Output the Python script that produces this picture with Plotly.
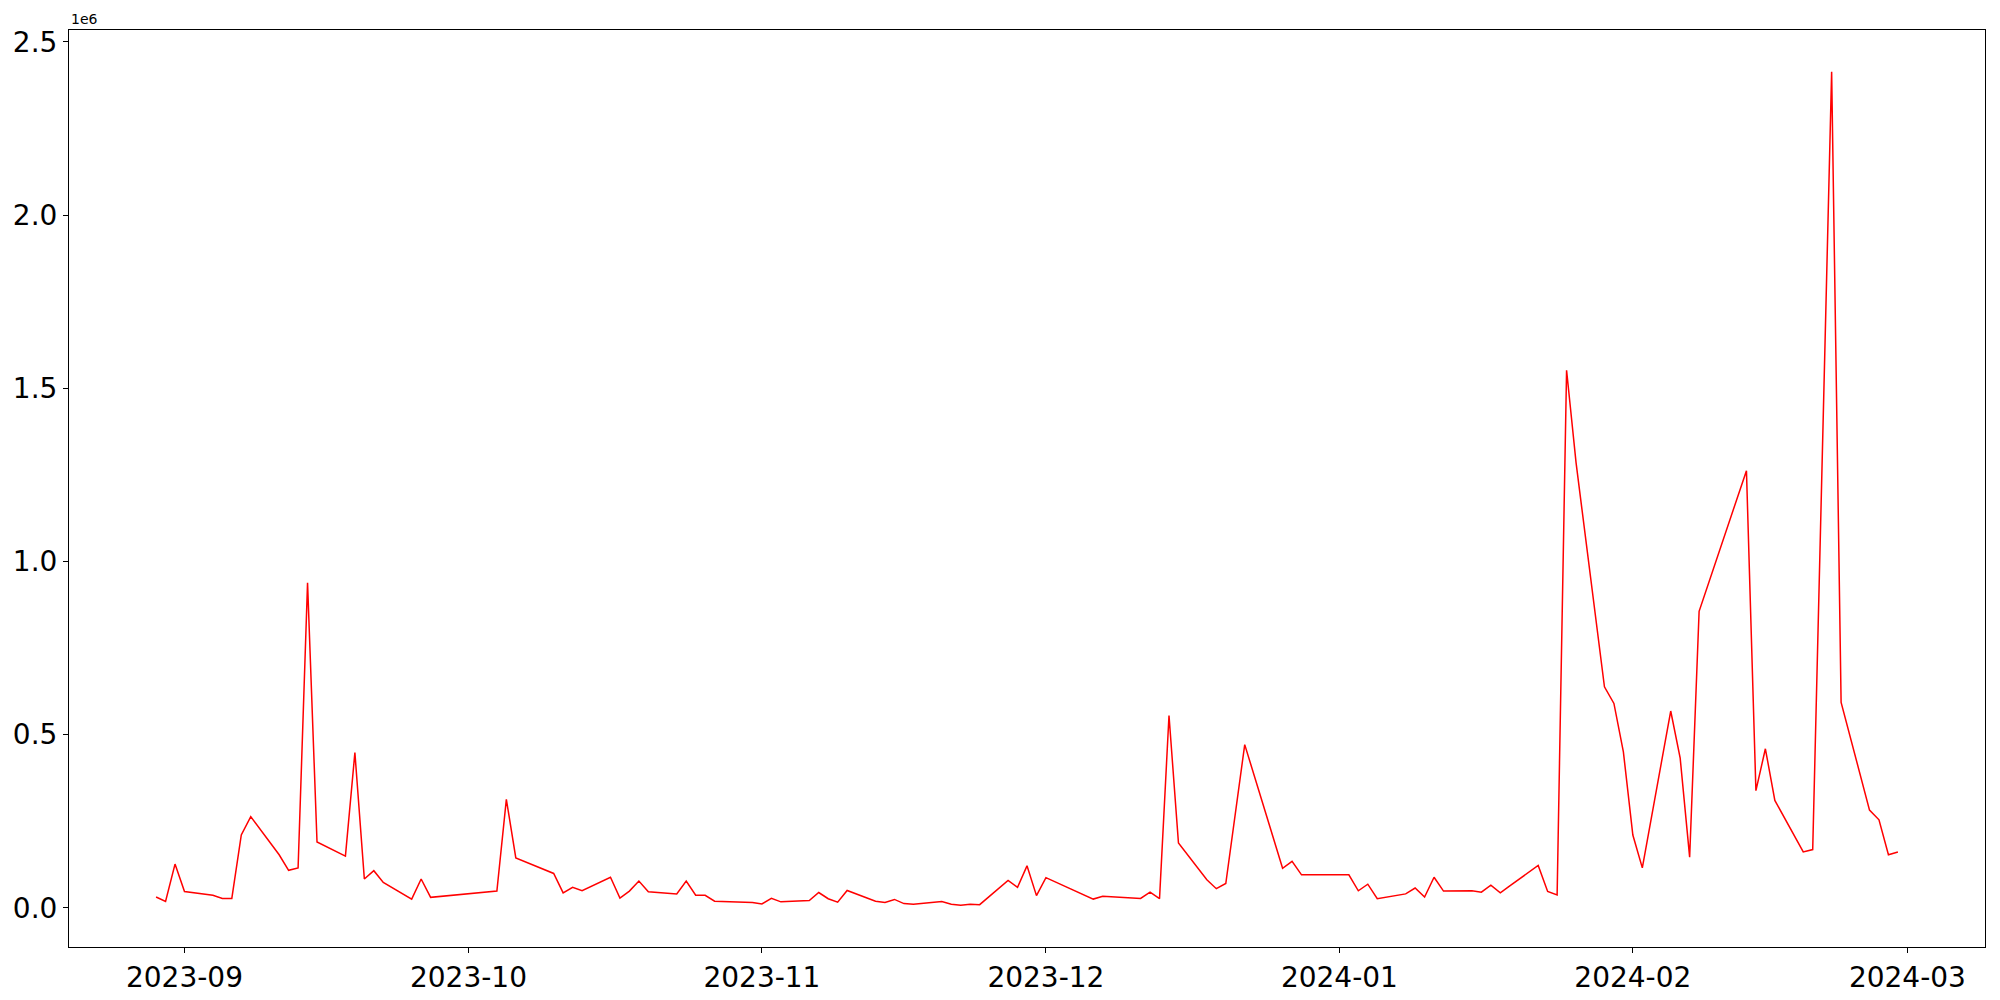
import pandas as pd
import plotly.graph_objects as go

# Trading dates (KRX calendar) and values
dates = [
    "2023-08-29", "2023-08-30", "2023-08-31", "2023-09-01",
    "2023-09-04", "2023-09-05", "2023-09-06", "2023-09-07", "2023-09-08",
    "2023-09-11", "2023-09-12", "2023-09-13", "2023-09-14", "2023-09-15",
    "2023-09-18", "2023-09-19", "2023-09-20", "2023-09-21", "2023-09-22",
    "2023-09-25", "2023-09-26", "2023-09-27",
    "2023-10-04", "2023-10-05", "2023-10-06",
    "2023-10-10", "2023-10-11", "2023-10-12", "2023-10-13",
    "2023-10-16", "2023-10-17", "2023-10-18", "2023-10-19", "2023-10-20",
    "2023-10-23", "2023-10-24", "2023-10-25", "2023-10-26", "2023-10-27",
    "2023-10-30", "2023-10-31", "2023-11-01", "2023-11-02", "2023-11-03",
    "2023-11-06", "2023-11-07", "2023-11-08", "2023-11-09", "2023-11-10",
    "2023-11-13", "2023-11-14", "2023-11-15", "2023-11-16", "2023-11-17",
    "2023-11-20", "2023-11-21", "2023-11-22", "2023-11-23", "2023-11-24",
    "2023-11-27", "2023-11-28", "2023-11-29", "2023-11-30", "2023-12-01",
    "2023-12-04", "2023-12-05", "2023-12-06", "2023-12-07", "2023-12-08",
    "2023-12-11", "2023-12-12", "2023-12-13", "2023-12-14", "2023-12-15",
    "2023-12-18", "2023-12-19", "2023-12-20", "2023-12-21", "2023-12-22",
    "2023-12-26", "2023-12-27", "2023-12-28",
    "2024-01-02", "2024-01-03", "2024-01-04", "2024-01-05",
    "2024-01-08", "2024-01-09", "2024-01-10", "2024-01-11", "2024-01-12",
    "2024-01-15", "2024-01-16", "2024-01-17", "2024-01-18", "2024-01-19",
    "2024-01-22", "2024-01-23", "2024-01-24", "2024-01-25", "2024-01-26",
    "2024-01-29", "2024-01-30", "2024-01-31", "2024-02-01", "2024-02-02",
    "2024-02-05", "2024-02-06", "2024-02-07", "2024-02-08",
    "2024-02-13", "2024-02-14", "2024-02-15", "2024-02-16",
    "2024-02-19", "2024-02-20", "2024-02-21", "2024-02-22", "2024-02-23",
    "2024-02-26", "2024-02-27", "2024-02-28", "2024-02-29",
]

values = [
    31000, 18000, 126000, 47000,
    36000, 27000, 27000, 210000, 263000,
    153000, 108000, 115000, 938000, 190000,
    149000, 448000, 83000, 107000, 73000,
    25000, 83000, 30000,
    48000, 313000, 144000,
    99000, 43000, 59000, 49000,
    88000, 28000, 48000, 77000, 46000,
    40000, 77000, 36000, 36000, 19000,
    16000, 15000, 11000, 27000, 17000,
    21000, 44000, 26000, 16000, 50000,
    19000, 15000, 24000, 12000, 10000,
    18000, 10000, 7000, 10000, 9000,
    79000, 59000, 121000, 35000, 87000,
    50000, 37000, 25000, 33000, 31000,
    27000, 45000, 26000, 555000, 187000,
    81000, 55000, 70000, 272000, 471000,
    114000, 134000, 95000,
    95000, 49000, 68000, 26000,
    40000, 57000, 31000, 88000, 48000,
    49000, 45000, 65000, 43000, 63000,
    122000, 47000, 37000, 1552000, 1285000,
    638000, 590000, 450000, 210000, 115000,
    568000, 432000, 146000, 856000,
    1262000, 338000, 459000, 310000,
    161000, 168000, 1270000, 2414000, 593000,
    282000, 254000, 153000, 161000,
]

x_tick_vals = ["2023-09-01", "2023-10-01", "2023-11-01", "2023-12-01",
               "2024-01-01", "2024-02-01", "2024-03-01"]
x_tick_text = ["2023-09", "2023-10", "2023-11", "2023-12",
               "2024-01", "2024-02", "2024-03"]
y_tick_vals = [0, 500000, 1000000, 1500000, 2000000, 2500000]
y_tick_text = ["0.0", "0.5", "1.0", "1.5", "2.0", "2.5"]

dt = pd.to_datetime(dates)
xpad = (dt.max() - dt.min()) * 0.05
ypad = (max(values) - min(values)) * 0.05

fig = go.Figure()
fig.add_trace(go.Scatter(
    x=dt, y=values, mode="lines",
    line=dict(color="red", width=1.5),
    showlegend=False, hoverinfo="skip",
))

axis_common = dict(
    showline=True, linecolor="black", linewidth=1.1, mirror=True,
    showgrid=False, zeroline=False, automargin=False,
    ticks="outside", ticklen=5, tickwidth=1.1, tickcolor="black",
    tickfont=dict(family="DejaVu Sans", size=28, color="black"),
)

fig.update_layout(
    width=2000, height=1000,
    margin=dict(l=69, r=15, t=30, b=53, pad=0),
    paper_bgcolor="white", plot_bgcolor="white",
    xaxis=dict(
        range=[dt.min() - xpad, dt.max() + xpad],
        tickmode="array", tickvals=pd.to_datetime(x_tick_vals), ticktext=x_tick_text,
        **axis_common,
    ),
    yaxis=dict(
        range=[min(values) - ypad, max(values) + ypad],
        tickmode="array", tickvals=y_tick_vals, ticktext=y_tick_text,
        **axis_common,
    ),
    annotations=[dict(
        text="1e6", xref="paper", yref="paper", x=0, y=1,
        xanchor="left", yanchor="bottom", showarrow=False, yshift=1,
        font=dict(family="DejaVu Sans", size=14, color="black"),
    )],
)

fig.write_html(
    "out.html",
    config={"displayModeBar": False},
    post_script="document.body.style.margin='0';document.body.style.overflow='hidden';",
)
